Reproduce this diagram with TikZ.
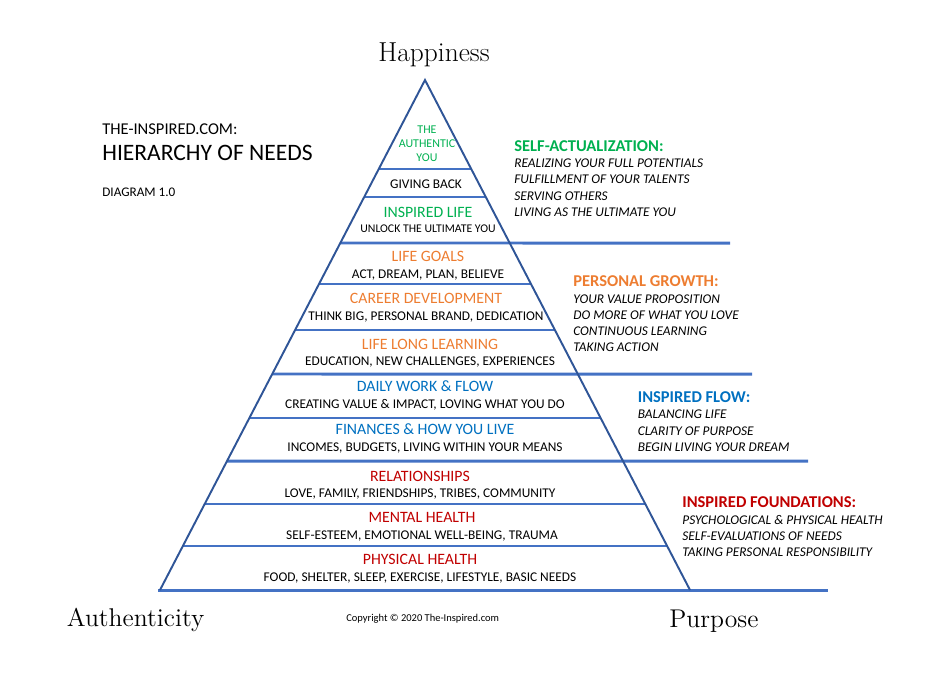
\documentclass[tikz,border=0pt]{standalone}
\usepackage{fontspec}
\setsansfont{Carlito}
\usepackage{tikz}
\usetikzlibrary{calc}
\usepackage{xcolor}
\definecolor{lifegreen}{RGB}{0,176,80}
\definecolor{groworange}{RGB}{237,125,49}
\definecolor{flowblue}{RGB}{0,112,192}
\definecolor{basered}{RGB}{192,0,0}
\definecolor{lineblue}{RGB}{68,114,196}
\definecolor{edgeblue}{RGB}{47,85,151}

\begin{document}
\begin{tikzpicture}[x=0.02cm, y=-0.02cm,
  every node/.style={inner sep=0pt, font=\sffamily},
  levelhead/.style={anchor=base, font=\sffamily\fontsize{9}{10}\selectfont},
  levelsub/.style={anchor=base, font=\sffamily\fontsize{7.6}{9}\selectfont},
  sidehead/.style={anchor=base west, font=\sffamily\bfseries\fontsize{9.4}{11}\selectfont},
  sideitem/.style={anchor=base west, font=\sffamily\itshape\fontsize{7.6}{9}\selectfont},
  bigword/.style={anchor=base, font=\rmfamily\fontsize{14.6}{16}\selectfont},
  edge/.style={draw=edgeblue, line width=1.1pt},
  thicksep/.style={draw=lineblue, line width=1.7pt},
  thinsep/.style={draw=lineblue, line width=0.7pt}]
  \useasboundingbox (0,0) rectangle (931,681);

  % pyramid outline
  \coordinate (apex) at (425,80);
  \coordinate (bl) at (160,590);
  \coordinate (br) at (690,590);
  \coordinate (baseL) at (158,590);
  \coordinate (baseR) at (828,590);

  % thin dividers inside the pyramid
  \foreach \yy in {169,197,284,330,418,504,546}
    \draw[thinsep] ($(apex)!{(\yy-80)/510}!(bl)$) -- ($(apex)!{(\yy-80)/510}!(br)$);
  % thick dividers running out under the side notes
  \foreach \yy/\xend in {243/730,374/752,461/808}
    \draw[thicksep] ($(apex)!{(\yy-80)/510}!(bl)$) -- (\xend,\yy);
  \draw[thicksep] (baseL) -- (baseR);
  \draw[edge, line join=miter] (bl) -- (apex) -- (br);

  % titles
  \node[bigword, font=\rmfamily\fontsize{15.6}{17}\selectfont] (happy) at (434,61.3) {Happiness};
  \node[bigword, anchor=base west] (authentic) at (66.5,626) {Authenticity};
  \node[bigword, anchor=base west] (purpose) at (669,627.3) {Purpose};
  \node[anchor=base, font=\sffamily\fontsize{5.97}{7}\selectfont] (copy) at (422.7,621.7) {Copyright \textcopyright{} 2020 The-Inspired.com};

  \node[anchor=base west, font=\sffamily\fontsize{9.4}{11}\selectfont] (site) at (102,134.3) {THE-INSPIRED.COM:};
  \node[anchor=base west, font=\sffamily\fontsize{13.4}{15}\selectfont] (hier) at (102,160.6) {HIERARCHY OF NEEDS};
  \node[anchor=base west, font=\sffamily\fontsize{7.5}{9}\selectfont] (diag) at (102,196.3) {DIAGRAM 1.0};

  % top of the pyramid
  \foreach \w [count=\i] in {THE,AUTHENTIC,YOU}
    \node[anchor=base, text=lifegreen, font=\sffamily\fontsize{6.8}{8}\selectfont] (you\i) at (427,{133.2+14.35*(\i-1)}) {\w};
  \node[levelsub] (giving) at (426,188.6) {GIVING BACK};
  \node[levelhead, text=lifegreen] (inspired) at (428,217.8) {INSPIRED LIFE};
  \node[levelsub, font=\sffamily\fontsize{6.7}{8}\selectfont] (unlock) at (428,232.4) {UNLOCK THE ULTIMATE YOU};

  % personal growth levels
  \node[levelhead, text=groworange] (goals) at (428,261.8) {LIFE GOALS};
  \node[levelsub] (goalsub) at (428,278.6) {ACT, DREAM, PLAN, BELIEVE};
  \node[levelhead, text=groworange] (career) at (426,303.4) {CAREER DEVELOPMENT};
  \node[levelsub] (careersub) at (426,320) {THINK BIG, PERSONAL BRAND, DEDICATION};
  \node[levelhead, text=groworange] (learn) at (430,349.1) {LIFE LONG LEARNING};
  \node[levelsub] (learnsub) at (430,365) {EDUCATION, NEW CHALLENGES, EXPERIENCES};

  % flow levels
  \node[levelhead, text=flowblue] (daily) at (425,391.1) {DAILY WORK \& FLOW};
  \node[levelsub] (dailysub) at (425,408.6) {CREATING VALUE \& IMPACT, LOVING WHAT YOU DO};
  \node[levelhead, text=flowblue] (money) at (425,434.1) {FINANCES \& HOW YOU LIVE};
  \node[levelsub] (moneysub) at (425,451) {INCOMES, BUDGETS, LIVING WITHIN YOUR MEANS};

  % foundation levels
  \node[levelhead, text=basered] (rel) at (420,481.1) {RELATIONSHIPS};
  \node[levelsub] (relsub) at (420,497.6) {LOVE, FAMILY, FRIENDSHIPS, TRIBES, COMMUNITY};
  \node[levelhead, text=basered] (mental) at (422,522.4) {MENTAL HEALTH};
  \node[levelsub] (mentalsub) at (422,539.6) {SELF-ESTEEM, EMOTIONAL WELL-BEING, TRAUMA};
  \node[levelhead, text=basered] (phys) at (420,564.1) {PHYSICAL HEALTH};
  \node[levelsub] (physsub) at (420,581) {FOOD, SHELTER, SLEEP, EXERCISE, LIFESTYLE, BASIC NEEDS};

  % side notes
  \node[sidehead, text=lifegreen] (selfact) at (514,151) {SELF-ACTUALIZATION:};
  \foreach \t [count=\i] in {REALIZING YOUR FULL POTENTIALS,FULFILLMENT OF YOUR TALENTS,SERVING OTHERS,LIVING AS THE ULTIMATE YOU}
    \node[sideitem] (sa\i) at (514,{167.6+16.2*(\i-1)}) {\t};

  \node[sidehead, text=groworange] (growth) at (573,286) {PERSONAL GROWTH:};
  \foreach \t [count=\i] in {YOUR VALUE PROPOSITION,DO MORE OF WHAT YOU LOVE,CONTINUOUS LEARNING,TAKING ACTION}
    \node[sideitem] (pg\i) at (573,{303.3+16.2*(\i-1)}) {\t};

  \node[sidehead, text=flowblue] (flow) at (637.5,402) {INSPIRED FLOW:};
  \foreach \t [count=\i] in {BALANCING LIFE,CLARITY OF PURPOSE,BEGIN LIVING YOUR DREAM}
    \node[sideitem] (if\i) at (637.5,{418.3+16.7*(\i-1)}) {\t};

  \node[sidehead, text=basered] (found) at (682,507.6) {INSPIRED FOUNDATIONS:};
  \foreach \t [count=\i] in {PSYCHOLOGICAL \& PHYSICAL HEALTH,SELF-EVALUATIONS OF NEEDS,TAKING PERSONAL RESPONSIBILITY}
    \node[sideitem] (fd\i) at (682,{524.3+15.9*(\i-1)}) {\t};
\end{tikzpicture}
\end{document}
